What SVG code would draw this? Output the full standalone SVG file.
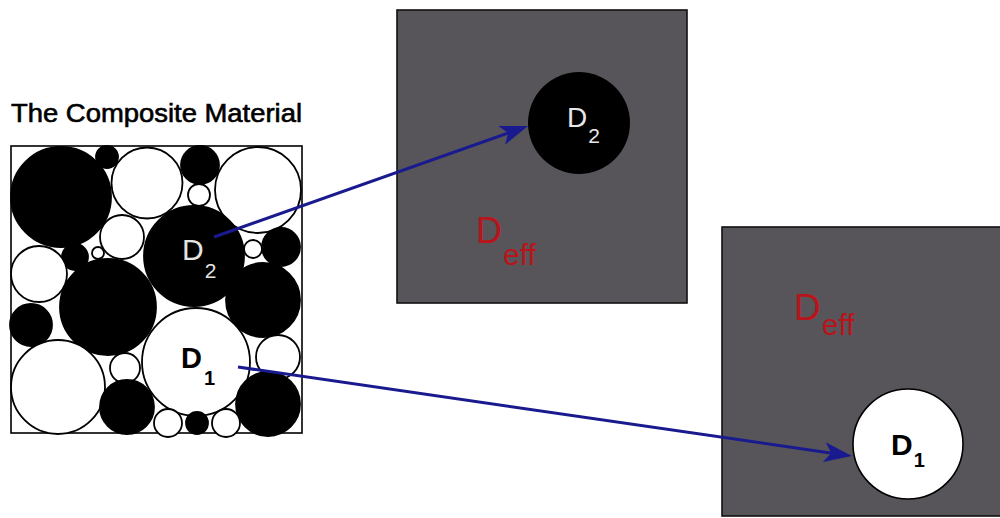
<svg xmlns="http://www.w3.org/2000/svg" width="1000" height="518" viewBox="0 0 1000 518">
<defs>
<style>
.w{fill:#fff;stroke:#000;stroke-width:1.8}
.b{fill:#000;stroke:#000;stroke-width:1.8}
.box{fill:#57555a;stroke:#111;stroke-width:1.6}
.lbl{font-family:"Liberation Sans",Arial,sans-serif}
.red{fill:#b8141a}
.conn{stroke:#1a1a8f;stroke-width:3;fill:none}
</style>
<marker id="ah" viewBox="-22 -12 32 24" refX="0" refY="0" markerWidth="32" markerHeight="24" markerUnits="userSpaceOnUse" orient="auto">
<path d="M8,0 L-20,-10 L-13,0 L-20,10 Z" fill="#1a1a8f"/>
</marker>
</defs>
<rect width="1000" height="518" fill="#fff"/>

<g id="composite">
<text class="lbl" x="11" y="122" font-size="25" textLength="291" lengthAdjust="spacingAndGlyphs" stroke="#000" stroke-width="0.6">The Composite Material</text>
<rect x="11" y="146" width="291" height="287" fill="#fff" stroke="#000" stroke-width="1.6"/>
<circle class="b" cx="61" cy="197" r="50"/>
<circle class="b" cx="107" cy="157" r="11"/>
<circle class="w" cx="147" cy="183" r="35.5"/>
<circle class="b" cx="200" cy="165" r="19"/>
<circle class="w" cx="199" cy="195" r="11"/>
<circle class="w" cx="258" cy="190" r="43"/>
<circle class="w" cx="122" cy="237" r="22"/>
<circle class="b" cx="75" cy="257" r="13"/>
<circle class="w" cx="98" cy="253" r="6"/>
<circle class="w" cx="39" cy="274" r="28"/>
<circle class="b" cx="108" cy="307" r="48"/>
<circle class="b" cx="194" cy="256" r="50"/>
<circle class="w" cx="253" cy="249" r="9"/>
<circle class="b" cx="281" cy="247" r="19"/>
<circle class="b" cx="263" cy="300" r="37"/>
<circle class="b" cx="31" cy="325" r="21"/>
<circle class="w" cx="196" cy="362" r="54"/>
<circle class="w" cx="278" cy="357" r="22"/>
<circle class="w" cx="58" cy="387" r="47"/>
<circle class="w" cx="125" cy="368" r="15"/>
<circle class="b" cx="127" cy="407" r="27"/>
<circle class="b" cx="268" cy="404" r="32"/>
<circle class="w" cx="168" cy="423" r="14"/>
<circle class="b" cx="197" cy="423" r="11"/>
<circle class="w" cx="226" cy="423" r="14"/>
<text class="lbl" x="182" y="260" font-size="30" fill="#e4e4e4">D<tspan font-size="21" dx="1" dy="18">2</tspan></text>
<text class="lbl" x="181" y="368" font-size="29" font-weight="bold" fill="#000">D<tspan font-size="20" dx="2" dy="17">1</tspan></text>
</g>

<g id="box-d2">
<rect class="box" x="397" y="10" width="290" height="293"/>
<circle cx="579" cy="123" r="51" fill="#000"/>
<text class="lbl" x="567" y="127" font-size="28" fill="#e8e8e8">D<tspan font-size="21" dx="1" dy="16">2</tspan></text>
<text class="lbl red" x="476" y="243" font-size="36">D<tspan font-size="30" dx="1" dy="22">eff</tspan></text>
</g>

<g id="box-d1">
<rect class="box" x="722" y="227" width="285" height="289"/>
<circle cx="908" cy="444" r="55" fill="#fff" stroke="#000" stroke-width="1.6"/>
<text class="lbl" x="891" y="455" font-size="30" font-weight="bold" fill="#000">D<tspan font-size="20" dx="1" dy="12">1</tspan></text>
<text class="lbl red" x="794" y="320" font-size="37">D<tspan font-size="30" dx="1" dy="15">eff</tspan></text>
</g>

<g id="connectors">
<path class="conn" d="M214,237 L520.5,128.7" marker-end="url(#ah)"/>
<path class="conn" d="M238,367 L844.1,454.9" marker-end="url(#ah)"/>
</g>
</svg>
